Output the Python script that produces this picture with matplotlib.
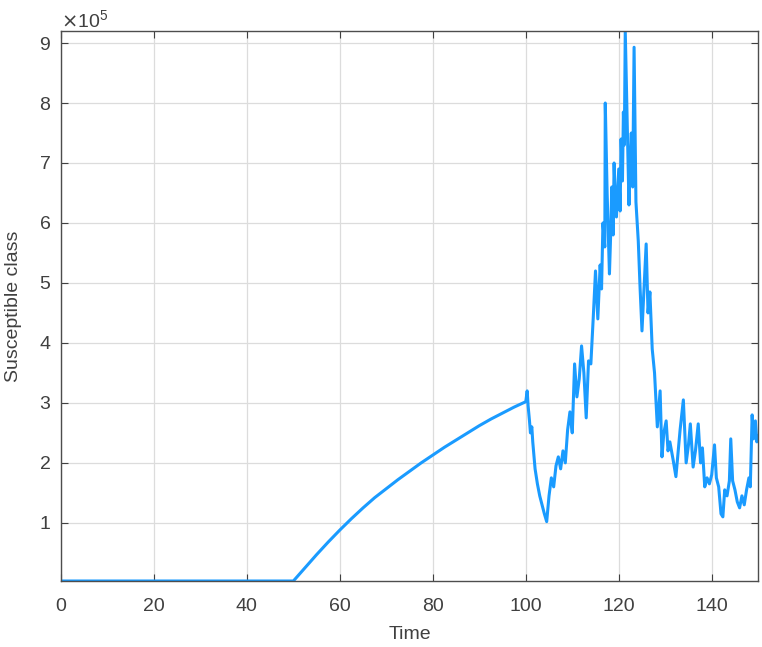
import numpy as np
import matplotlib.pyplot as plt
from matplotlib.ticker import ScalarFormatter

plt.rcParams['font.family'] = ['Liberation Sans', 'DejaVu Sans']

# ── data (values in units of 1e5) ──
t_flat = [0, 10, 20, 30, 40, 50]
s_flat = [0.03, 0.03, 0.03, 0.03, 0.03, 0.03]

t_rise = [52.5, 55, 57.5, 60, 62.5, 65, 67.5, 70, 72.5, 75, 77.5, 80,
          82.5, 85, 87.5, 90, 92.5, 95, 97.5, 100]
s_rise = [0.25, 0.47, 0.68, 0.88, 1.07, 1.25, 1.42, 1.57, 1.72, 1.86, 2.0, 2.13,
          2.26, 2.38, 2.5, 2.62, 2.73, 2.83, 2.93, 3.02]

t_noisy = [100.3, 100.5, 100.8, 101.0, 101.3, 101.5, 102.0, 102.5, 103.0, 103.5,
           104.0, 104.5, 105.0, 105.5, 106.0, 106.5, 107.0, 107.5, 108.0, 108.5,
           109.0, 109.5, 110.0, 110.5, 111.0, 111.5, 112.0, 112.5, 113.0, 113.5,
           114.0, 114.5, 115.0, 115.5, 116.0, 116.3, 116.6, 117.0, 117.1, 117.5,
           118.0, 118.3, 118.5, 118.8, 119.0, 119.3, 119.5, 119.8, 120.0, 120.3,
           120.5, 120.8, 121.0, 121.2, 121.4, 121.8, 122.2, 122.5, 122.7, 123.0,
           123.3, 123.7, 124.2, 124.6, 125.0, 125.5, 125.9, 126.3, 126.7, 127.2,
           127.7, 128.3, 128.9, 129.3, 129.7, 130.2, 130.6, 131.0, 131.7, 132.3,
           132.8, 133.2, 133.9, 134.5, 135.0, 135.4, 136.0, 136.5, 137.1, 137.6,
           138.0, 138.5, 139.0, 139.5, 140.0, 140.6, 141.0, 141.5, 142.0, 142.4,
           142.8, 143.3, 143.8, 144.1, 144.5, 145.0, 145.5, 146.0, 146.5, 147.0,
           147.5, 148.0, 148.3, 148.7, 149.0, 149.4, 149.7, 150.0]
s_noisy = [3.2, 2.95, 2.7, 2.5, 2.6, 2.35, 1.9, 1.65, 1.45, 1.3,
           1.15, 1.02, 1.45, 1.75, 1.6, 1.95, 2.1, 1.9, 2.2, 2.0,
           2.55, 2.85, 2.5, 3.65, 3.1, 3.4, 3.95, 3.5, 2.75, 3.7,
           3.65, 4.4, 5.2, 4.4, 5.3, 4.9, 6.0, 5.6, 8.0, 6.5,
           5.15, 5.9, 6.6, 5.8, 7.0, 6.3, 6.1, 6.6, 6.9, 6.2,
           7.4, 6.7, 7.85, 7.3, 9.2, 7.75, 6.3, 7.1, 7.5, 6.6,
           8.93, 6.35, 5.7, 4.9, 4.2, 5.0, 5.65, 4.5, 4.85, 3.9,
           3.5, 2.6, 3.2, 2.1, 2.5, 2.7, 2.2, 2.35, 2.05, 1.77,
           2.2, 2.55, 3.05, 2.0, 2.3, 2.65, 1.93, 2.2, 2.65, 2.0,
           2.25, 1.6, 1.75, 1.65, 1.8, 2.3, 1.75, 1.6, 1.15, 1.1,
           1.55, 1.45, 1.7, 2.4, 1.7, 1.55, 1.35, 1.25, 1.45, 1.3,
           1.55, 1.75, 1.6, 2.8, 2.4, 2.7, 2.35, 2.45]

t = np.array(t_flat + t_rise + t_noisy)
s = np.array(s_flat + s_rise + s_noisy) * 1e5

fig = plt.figure(figsize=(7.62, 6.47), dpi=100)
ax = fig.add_axes([0.080, 0.102, 0.915, 0.850])

ax.plot(t, s, color='#1a9bff', linewidth=2.2)

ax.set_xlim(0, 150)
ax.set_ylim(s.min(), s.max())
ax.set_xticks([0, 20, 40, 60, 80, 100, 120, 140])
ax.set_yticks(np.arange(1, 10) * 1e5)

fmt = ScalarFormatter(useMathText=True)
fmt.set_powerlimits((0, 0))
ax.yaxis.set_major_formatter(fmt)
off = ax.yaxis.get_offset_text()
off.set_fontsize(14)
off.set_color('#404040')

ax.grid(True, color='#dcdcdc', linewidth=0.9)
ax.set_axisbelow(True)
ax.tick_params(direction='in', top=True, right=True, labelsize=14,
               colors='#404040', length=5, width=0.8)
ax.tick_params(axis='x', pad=12)
ax.tick_params(axis='y', pad=7)
for sp in ax.spines.values():
    sp.set_color('#4d4d4d')
    sp.set_linewidth(1.0)

ax.set_xlabel('Time', fontsize=14, color='#404040', labelpad=8)
ax.set_ylabel('Susceptible class', fontsize=14, color='#404040', labelpad=12)

fig.savefig('out.png', dpi=100)
